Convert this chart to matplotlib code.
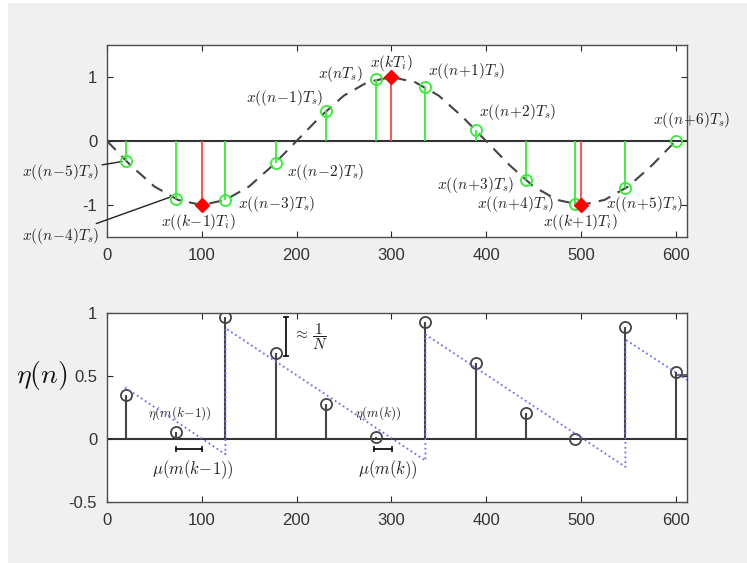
import matplotlib.pyplot as plt
import matplotlib.patches as mpatches

plt.rcParams['mathtext.fontset'] = 'cm'
plt.rcParams['font.family'] = ['Liberation Sans', 'DejaVu Sans']
plt.rcParams['axes.unicode_minus'] = False

curve_t = [0, 25, 50, 75, 100, 125, 150, 175, 200, 225, 250, 275, 300,
           325, 350, 375, 400, 425, 450, 475, 500, 525, 550, 575, 600]
curve_x = [0, -0.38, -0.71, -0.92, -1, -0.92, -0.71, -0.38, 0, 0.38, 0.71, 0.92, 1,
           0.92, 0.71, 0.38, 0, -0.38, -0.71, -0.92, -1, -0.92, -0.71, -0.38, 0]

# input samples x(nTs)
sample_t = [20, 73, 125, 178, 231, 284, 336, 389, 442, 494, 547, 600]
sample_x = [-0.31, -0.91, -0.92, -0.34, 0.47, 0.97, 0.84, 0.17, -0.61, -0.99, -0.74, 0.0]

# interpolated points x(kTi)
interp_t = [100, 300, 500]
interp_x = [-1, 1, -1]

# eta(n) stems
eta = [0.35, 0.055, 0.97, 0.68, 0.28, 0.02, 0.93, 0.60, 0.21, 0.0, 0.89, 0.53]

# NCO sawtooth (blue dotted)
saw_t = [19, 125, 125, 336, 336, 547, 547, 615]
saw_y = [0.41, -0.12, 0.88, -0.17, 0.83, -0.22, 0.79, 0.455]

gray_bg = '#f0f0f0'
axcol = '#4d4d4d'
txtcol = '#222222'

fig = plt.figure(figsize=(7.47, 5.63), dpi=100, facecolor='white')
fig.patches.append(mpatches.Rectangle((8 / 747, 0), 1, 1 - 3 / 563, transform=fig.transFigure,
                                      facecolor=gray_bg, edgecolor='none', zorder=-10))

ax1 = fig.add_axes([0.1432, 0.579, 0.7765, 0.341])
ax2 = fig.add_axes([0.1432, 0.108, 0.7765, 0.336])

for ax in (ax1, ax2):
    ax.set_xlim(0, 612)
    ax.set_xticks([0, 100, 200, 300, 400, 500, 600])
    ax.tick_params(direction='in', top=True, right=True, length=4, width=0.8,
                   colors='#262626', labelsize=12, labelcolor='#333333')
    ax.tick_params(axis='x', pad=8)
    ax.tick_params(axis='y', pad=7)
    for s in ax.spines.values():
        s.set_color(axcol)
        s.set_linewidth(1.0)
    ax.axhline(0, color='#333333', lw=1.5, zorder=1)

# ---- top panel
ax1.set_ylim(-1.5, 1.5)
ax1.set_yticks([-1, 0, 1])
ax1.plot(curve_t, curve_x, color='#444444', lw=1.5, dashes=(6, 4), zorder=2)
ax1.vlines(sample_t, 0, sample_x, color='#33ee33', lw=1.3, zorder=3)
ax1.plot(sample_t, sample_x, 'o', ms=8, mfc='none', mec='#33ee33', mew=1.3, zorder=4)
ax1.vlines(interp_t, 0, interp_x, color='#ff4444', lw=1.3, zorder=3)
ax1.plot(interp_t, interp_x, 'D', ms=7, color='#ff0000', zorder=5)

fs = 11
lab = dict(fontsize=fs, color=txtcol, va='center')
ax1.text(270, 1.05, '$x(nT_s)$', ha='right', **lab)
ax1.text(300, 1.22, '$x(kT_i)$', ha='center', **lab)
ax1.text(228, 0.67, '$x((n\\!-\\!1)T_s)$', ha='right', **lab)
ax1.text(339, 1.10, '$x((n\\!+\\!1)T_s)$', ha='left', **lab)
ax1.text(393, 0.45, '$x((n\\!+\\!2)T_s)$', ha='left', **lab)
ax1.text(576, 0.33, '$x((n\\!+\\!6)T_s)$', ha='left', **lab)
ax1.text(190, -0.48, '$x((n\\!-\\!2)T_s)$', ha='left', **lab)
ax1.text(138, -0.99, '$x((n\\!-\\!3)T_s)$', ha='left', **lab)
ax1.text(97, -1.27, '$x((k\\!-\\!1)T_i)$', ha='center', **lab)
ax1.text(430, -0.68, '$x((n\\!+\\!3)T_s)$', ha='right', **lab)
ax1.text(472, -0.98, '$x((n\\!+\\!4)T_s)$', ha='right', **lab)
ax1.text(500, -1.27, '$x((k\\!+\\!1)T_i)$', ha='center', **lab)
ax1.text(527, -0.99, '$x((n\\!+\\!5)T_s)$', ha='left', **lab)
ax1.annotate('$x((n\\!-\\!5)T_s)$', xy=(16, -0.32), xytext=(-8, -0.48), ha='right', va='center',
             fontsize=fs, color=txtcol, annotation_clip=False,
             arrowprops=dict(arrowstyle='-', color=txtcol, lw=1, shrinkA=0, shrinkB=0))
ax1.annotate('$x((n\\!-\\!4)T_s)$', xy=(66, -0.88), xytext=(-8, -1.49), ha='right', va='center',
             fontsize=fs, color=txtcol, annotation_clip=False,
             arrowprops=dict(arrowstyle='-', color=txtcol, lw=1, shrinkA=0, shrinkB=0))

# ---- bottom panel
ax2.set_ylim(-0.5, 1)
ax2.set_yticks([-0.5, 0, 0.5, 1])
ax2.set_yticklabels(['-0.5', '0', '0.5', '1'])
ax2.vlines(sample_t, 0, eta, color='#444444', lw=1.5, zorder=3)
ax2.plot(sample_t, eta, 'o', ms=8, mfc='none', mec='#444444', mew=1.3, zorder=4)
ax2.plot(saw_t, saw_y, color='#6a6aff', lw=1.3, ls=':', zorder=5)
ax2.plot([603, 612], [0.51, 0.51], color='#444444', lw=1.2, zorder=4)

ax2.text(77, 0.21, '$\\eta(m(k\\!-\\!1))$', ha='center', va='center', fontsize=9.5, color=txtcol)
ax2.text(286, 0.21, '$\\eta(m(k))$', ha='center', va='center', fontsize=9.5, color=txtcol)
ax2.text(91, -0.245, '$\\mu(m(k\\!-\\!1))$', ha='center', va='center', fontsize=12, color=txtcol)
ax2.text(296, -0.245, '$\\mu(m(k))$', ha='center', va='center', fontsize=12, color=txtcol)
ax2.plot([73, 100], [-0.08, -0.08], color='#111111', lw=1.3, marker='|', ms=5, mew=1.2)
ax2.plot([282, 301], [-0.08, -0.08], color='#111111', lw=1.3, marker='|', ms=5, mew=1.2)
ax2.plot([189, 189], [0.97, 0.66], color='#111111', lw=1.3, marker='_', ms=5, mew=1.2)
ax2.text(196, 0.81, '$\\approx\\,\\dfrac{1}{N}$', ha='left', va='center', fontsize=11, color=txtcol)
ax2.set_ylabel('$\\eta(n)$', fontsize=20, rotation=0, color='#111111', ha='center', va='center')
ax2.yaxis.set_label_coords(-0.112, 0.672)

fig.savefig('out.png', dpi=100, facecolor=fig.get_facecolor())
